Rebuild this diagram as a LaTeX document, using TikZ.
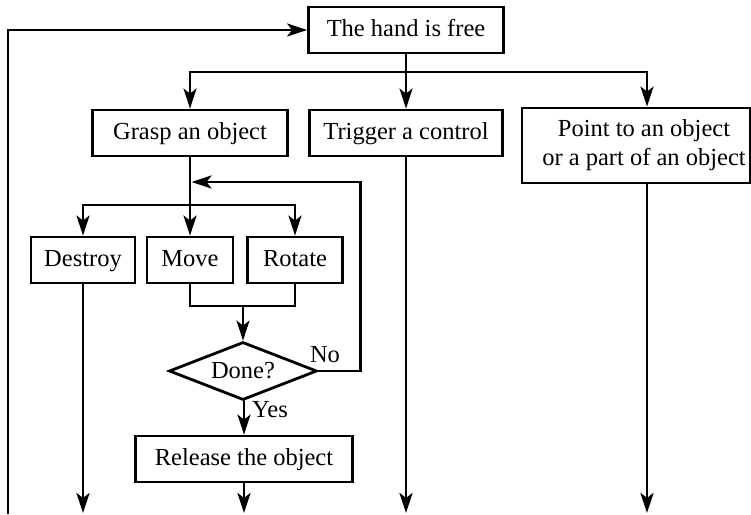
\documentclass[tikz,border=0pt]{standalone}
\usepackage{fontspec}
\setmainfont{Liberation Serif}
\usetikzlibrary{arrows.meta,shapes.geometric}

\begin{document}
\begin{tikzpicture}[x=1pt,y=-1pt,line width=2.8pt,
    font=\rmfamily\fontsize{24.5}{29}\selectfont,
    box/.style={draw,rectangle,minimum height=46pt,inner sep=4pt,text height=17pt,text depth=5pt},
    decision/.style={draw,diamond,aspect=2.55,minimum width=148pt,minimum height=58pt,inner sep=0pt},
    arr/.style={-{Stealth[length=20pt,width=13pt,inset=5pt]}}]
    \useasboundingbox (0,0) rectangle (751,514);

    % Kästen
    \node[box,minimum width=195pt] (hand) at (406,30) {The hand is free};
    \node[box,minimum width=195pt] (grasp) at (190,133) {Grasp an object};
    \node[box,minimum width=193pt] (trigger) at (406,133) {Trigger a control};
    \node[box,minimum width=228pt,minimum height=75pt,text height=,text depth=] (point) at (636,145.5)
        {\hspace*{16pt}\begin{tabular}{@{}c@{}}Point to an object\\or a part of an object\end{tabular}};
    \node[box,minimum width=104pt] (destroy) at (83,260) {Destroy};
    \node[box,minimum width=86pt] (move) at (190,260) {Move};
    \node[box,minimum width=95pt] (rotate) at (295,260) {Rotate};
    \node[decision] (done) at (243,371) {Done?};
    \node[box,minimum width=217pt] (release) at (244,459) {Release the object};

    \node (no) at (325,355) {No};
    \node (yes) at (270,410) {Yes};

    % Hilfspunkte
    \coordinate (split1) at (406,72);
    \coordinate (pt) at (647,72);
    \coordinate (split2) at (190,205);
    \coordinate (back) at (191.5,182);
    \coordinate (join) at (243,306);
    \coordinate (bottom) at (0,513);
    \coordinate (loop) at (8,514);

    % Verzweigung oben
    \draw (hand) -- (split1);
    \draw[arr] (split1) -- (trigger);
    \draw[arr] (split1) -| (grasp);
    \draw[arr] (split1) -- (pt) -- (pt |- point.north);

    % Greifen
    \draw (grasp) -- (split2);
    \draw[arr] (split2) -- (move);
    \draw[arr] (split2) -| (destroy);
    \draw[arr] (split2) -| (rotate);
    \draw (move.south) |- (join) -| (rotate.south);
    \draw[arr] (join) -- (done);
    \draw[arr] (done.east) -- ++(42,0) |- (back);
    \draw[arr] (done.south) -- (done.south -| release.north) -- (release.north);

    % nach unten
    \foreach \n in {destroy,release,trigger}
        \draw[arr] (\n.south) -- (\n.south |- bottom);
    \draw[arr] (pt |- point.south) -- (pt |- bottom);
    \draw[arr] (loop) |- (hand.west);
\end{tikzpicture}
\end{document}
